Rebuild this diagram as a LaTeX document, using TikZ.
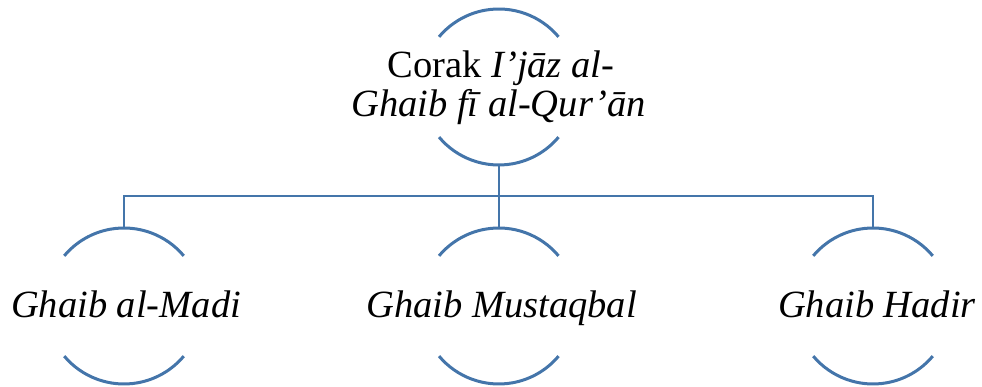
\documentclass[tikz,border=0pt]{standalone}
\usepackage{fontspec}
\setmainfont{Liberation Serif}
\definecolor{arcblue}{RGB}{68,117,170}
\begin{document}
\begin{tikzpicture}[x=1pt,y=1pt,
  ring/.style={circle,draw=none,inner sep=0pt,outer sep=0pt,minimum size=156pt},
  arcline/.style={draw=arcblue,line width=3pt},
  conn/.style={draw=arcblue,line width=2.6pt},
  lbl/.style={font=\fontsize{38.5}{39.4}\selectfont,inner sep=0pt,align=center}]
\useasboundingbox (0,0) rectangle (982,387);
% rings
\node[ring] (c0) at (498.8,300) {};
\node[ring] (c1) at (124,81) {};
\node[ring] (c2) at (498.8,81) {};
\node[ring] (c3) at (873,81) {};
% arcs
\foreach \n in {c0,c1,c2,c3}{
  \draw[arcline] (\n.40) arc[start angle=40,end angle=140,radius=78pt];
  \draw[arcline] (\n.220) arc[start angle=220,end angle=320,radius=78pt];
}
% texts
\node[lbl,anchor=base] (t0a) at (501,309.7) {Corak \textit{I’jāz al-}};
\node[lbl,anchor=base] (t0b) at (498.5,270.3) {\textit{Ghaib fī al-Qur’ān}};
\node[lbl,anchor=base] (t1) at (126,69) {\textit{Ghaib al-Madi}};
\node[lbl,anchor=base] (t2) at (501.5,69) {\textit{Ghaib Mustaqbal}};
\node[lbl,anchor=base] (t3) at (877,69) {\textit{Ghaib Hadir}};
% connectors
\coordinate (bus) at (498.8,191);
\draw[conn] (c0.south) -- (bus);
\draw[conn] (bus) -| (c1.north);
\draw[conn] (bus) -| (c3.north);
\draw[conn] (bus) -- (c2.north);
\end{tikzpicture}
\end{document}
